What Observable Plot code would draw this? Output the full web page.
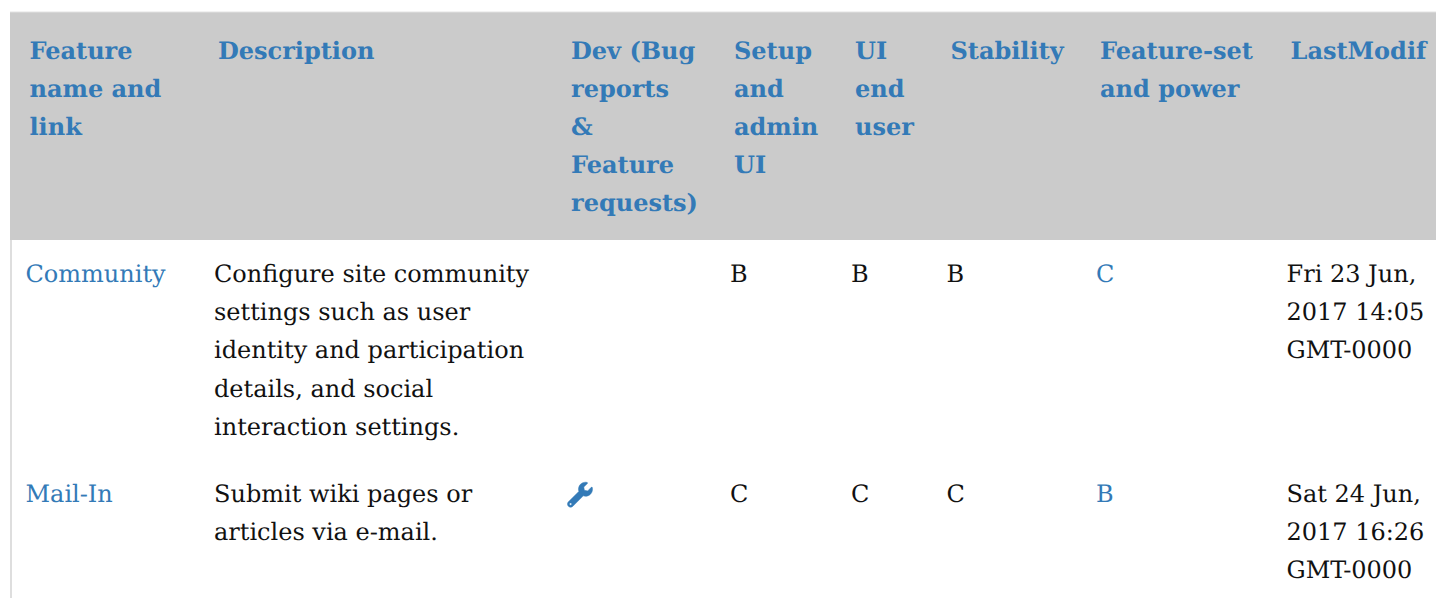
<!DOCTYPE html>
<html><head><meta charset="utf-8">
<script src="https://cdn.jsdelivr.net/npm/d3@7"></script>
<script src="https://cdn.jsdelivr.net/npm/@observablehq/plot@0.6"></script>
<style>html,body{margin:0;padding:0;background:#fff;overflow:hidden}svg{display:block}svg text{text-rendering:geometricPrecision}</style>
</head><body><div id="chart"></div>
<script>
const headers = [
  ["Feature","name and","link"],
  ["Description"],
  ["Dev (Bug","reports","&","Feature","requests)"],
  ["Setup","and","admin","UI"],
  ["UI","end","user"],
  ["Stability"],
  ["Feature-set","and power"],
  ["LastModif"]
];
const communityRow = [
  ["Community"],
  ["Configure site community","settings such as user","identity and participation","details, and social","interaction settings."],
  [],
  ["B"],["B"],["B"],["C"],
  ["Fri 23 Jun,","2017 14:05","GMT-0000"]
];
const mailInRow = [
  ["Mail-In"],
  ["Submit wiki pages or","articles via e-mail."],
  [],
  ["C"],["C"],["C"],["B"],
  ["Sat 24 Jun,","2017 16:26","GMT-0000"]
];
const linkColumns = [0, 6];
const wrenchCells = [{col: 2, line: 11}];

const LINK = "#337ab7", INK = "#111";
const cells = (row, start) => row.flatMap((lines, col) =>
  lines.map((text, i) => ({col, line: start + i, text})));
const headCells = cells(headers, 0);
const bodyCells = [...cells(communityRow, 6), ...cells(mailInRow, 11)];

// Font Awesome style wrench outline, drawn as a custom dot symbol
const WRENCH = "M507.73 109.1c-2.24-9.03-13.54-12.09-20.12-5.51l-74.36 74.36-67.88-11.31-11.31-67.88 74.36-74.36c6.62-6.62 3.43-17.9-5.66-20.16-47.38-11.74-99.55.91-136.58 37.93-39.64 39.64-50.55 97.1-34.05 147.2L18.74 402.76c-24.99 24.99-24.99 65.51 0 90.5 24.99 24.99 65.51 24.99 90.5 0l213.21-213.21c50.12 16.71 107.47 5.68 147.37-34.22 37.07-37.07 49.7-89.32 37.91-136.73zM64 472c-13.25 0-24-10.75-24-24 0-13.26 10.75-24 24-24s24 10.74 24 24c0 13.25-10.75 24-24 24z";
const wrenchSymbol = {draw(ctx, size) {
  const k = Math.sqrt(size / Math.PI) / 256;
  const X = v => (v - 256) * k, Y = v => (v - 256) * k;
  let cx = 0, cy = 0, lx = 0, ly = 0;
  for (const [, cmd, args] of WRENCH.matchAll(/([a-zA-Z])([^a-zA-Z]*)/g)) {
    const n = (args.match(/-?\d*\.?\d+/g) || []).map(Number);
    if (cmd === "M") { cx = n[0]; cy = n[1]; ctx.moveTo(X(cx), Y(cy)); }
    else if (cmd === "L") { for (let i = 0; i < n.length; i += 2) { cx = n[i]; cy = n[i+1]; ctx.lineTo(X(cx), Y(cy)); } }
    else if (cmd === "l") { for (let i = 0; i < n.length; i += 2) { cx += n[i]; cy += n[i+1]; ctx.lineTo(X(cx), Y(cy)); } }
    else if (cmd === "c") { for (let i = 0; i < n.length; i += 6) {
      const x1 = cx+n[i], y1 = cy+n[i+1], x2 = cx+n[i+2], y2 = cy+n[i+3], x = cx+n[i+4], y = cy+n[i+5];
      ctx.bezierCurveTo(X(x1),Y(y1),X(x2),Y(y2),X(x),Y(y)); lx = x2; ly = y2; cx = x; cy = y; } }
    else if (cmd === "s") { for (let i = 0; i < n.length; i += 4) {
      const x1 = 2*cx-lx, y1 = 2*cy-ly, x2 = cx+n[i], y2 = cy+n[i+1], x = cx+n[i+2], y = cy+n[i+3];
      ctx.bezierCurveTo(X(x1),Y(y1),X(x2),Y(y2),X(x),Y(y)); lx = x2; ly = y2; cx = x; cy = y; } }
    else if (cmd === "z") { ctx.closePath(); }
  }
}};

// Scale transforms place table columns and text lines on the page
const columnPlace = d3.scaleLinear([-1, 0, 1, 2, 3, 4, 5, 6, 7, 8], [10, 25, 213.5, 566.5, 729.5, 850.5, 946, 1095.5, 1286, 1436]);
const linePlace = d3.scaleLinear([-1, 0, 4, 5, 6, 10, 11, 13, 14], [12, 51, 203, 240, 274, 426.6, 494.2, 570.3, 598]);

const FONT = "'DejaVu Serif'";
const chart = Plot.plot({
  width: 1436, height: 598,
  margin: 0,
  style: {background: "#fff", fontFamily: FONT, overflow: "hidden"},
  x: {axis: null, transform: columnPlace, domain: [0, 1436], range: [0, 1436]},
  y: {axis: null, transform: linePlace, domain: [0, 598], range: [0, 598]},
  marks: [
    Plot.rect([0], {x1: -1, x2: 8, y1: -1, y2: 5, fill: "#cbcbcb"}),
    Plot.ruleY([-1], {x1: -1, x2: 8, dy: -0.5, stroke: "#e2e2e2", strokeWidth: 1}),
    Plot.ruleX([-1], {y1: 5, y2: 14, dx: 0.5, stroke: "#d6d6d6", strokeWidth: 1.6}),
    Plot.text(headCells, {x: "col", y: "line", text: "text", dx: 4, textAnchor: "start", lineAnchor: "middle",
      fill: LINK, fontWeight: "bold", fontSize: 24, fontFamily: FONT}),
    Plot.text(bodyCells, {x: "col", y: "line", text: "text", textAnchor: "start", lineAnchor: "middle",
      fill: d => linkColumns.includes(d.col) ? LINK : INK, fontSize: 24, fontFamily: FONT}),
    Plot.dot(wrenchCells, {x: "col", y: "line", dx: 13, r: 12.5, symbol: wrenchSymbol, fill: LINK, stroke: LINK, strokeWidth: 0.5})
  ]
});
document.getElementById("chart").append(chart);
</script></body></html>
